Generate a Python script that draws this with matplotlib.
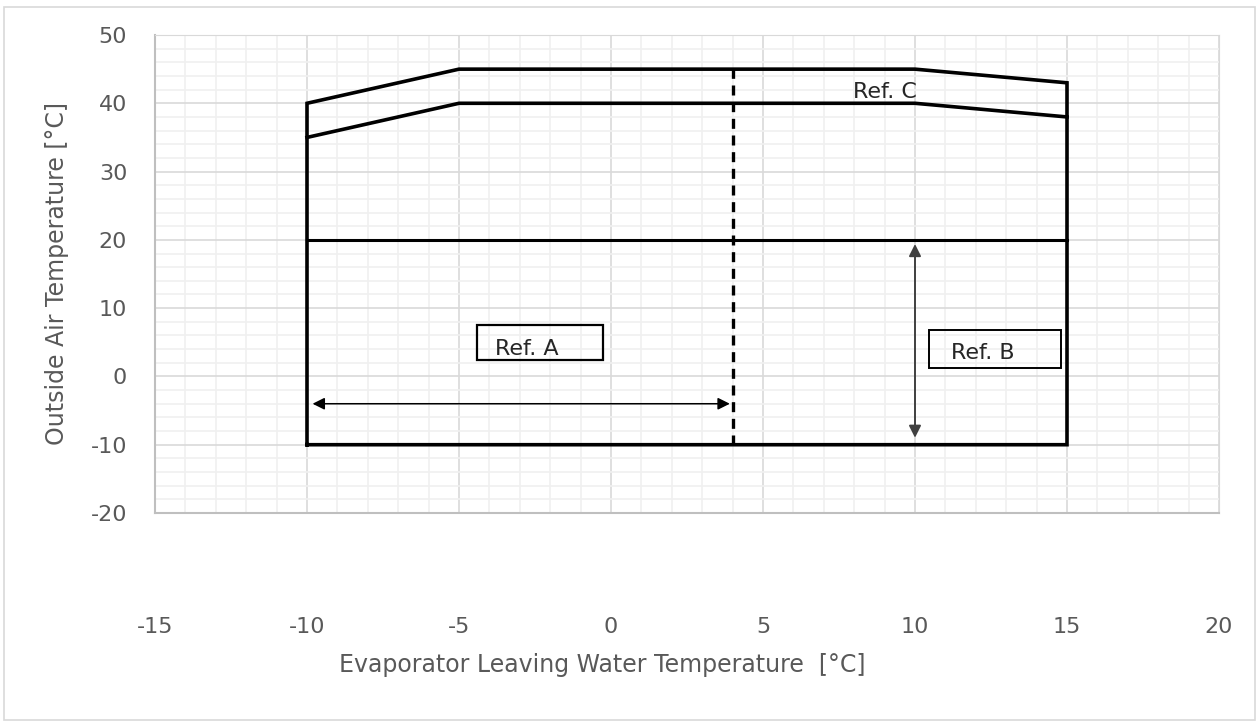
import matplotlib

matplotlib.use("Agg")
import matplotlib.pyplot as plt
from matplotlib.patches import Rectangle
from matplotlib.ticker import MultipleLocator

plt.rcParams["axes.unicode_minus"] = False

# operating envelope outline
ENV_X = [-10, -10, -5, 10, 15, 15, -10]
ENV_Y = [-10, 40, 45, 45, 43, -10, -10]

# lower edge of the Ref. C band
REF_C_X = [-10, -5, 10, 15]
REF_C_Y = [35, 40, 40, 38]

# horizontal split at 20 °C
SPLIT_X = [-10, 15]
SPLIT_Y = [20, 20]

# dashed limit at 4 °C leaving water
DASH_X = [4, 4]
DASH_Y = [-10, 45]

# arrows: (x0, y0) -> (x1, y1)
ARROW_A = ((-10, -4), (4, -4))
ARROW_B = ((10, 20), (10, -10))

X_TICKS = [-15, -10, -5, 0, 5, 10, 15, 20]
Y_TICKS = [-20, -10, 0, 10, 20, 30, 40, 50]

W, H = 1260, 726
fig = plt.figure(figsize=(W / 100, H / 100), dpi=100)
ax = fig.add_axes([155 / W, 1 - 513 / H, (1219 - 155) / W, (513 - 35) / H])

ax.set_xlim(X_TICKS[0], X_TICKS[-1])
ax.set_ylim(Y_TICKS[0], Y_TICKS[-1])
ax.set_xticks(X_TICKS)
ax.set_yticks(Y_TICKS)
ax.xaxis.set_minor_locator(MultipleLocator(1))
ax.yaxis.set_minor_locator(MultipleLocator(2))
ax.grid(which="major", color="#d9d9d9", lw=1.2, zorder=0)
ax.grid(which="minor", color="#f0f0f0", lw=1.2, zorder=0)
ax.set_axisbelow(True)
ax.tick_params(which="both", length=0, colors="#595959", labelsize=16)
ax.tick_params(axis="x", pad=75)
ax.tick_params(axis="y", pad=20)
for side in ["top", "right"]:
    ax.spines[side].set_color("#d9d9d9")
for side in ["left", "bottom"]:
    ax.spines[side].set_color("#bfbfbf")
    ax.spines[side].set_linewidth(1.5)

ax.plot(ENV_X, ENV_Y, color="black", lw=2.6, solid_joinstyle="miter", zorder=3)
ax.plot(REF_C_X, REF_C_Y, color="black", lw=2.6, zorder=3)
ax.plot(SPLIT_X, SPLIT_Y, color="black", lw=2.2, zorder=3)
ax.plot(DASH_X, DASH_Y, color="black", lw=2.4, dashes=(3.0, 2.0), zorder=3)

ax.annotate("", xy=ARROW_A[0], xytext=ARROW_A[1],
            arrowprops=dict(arrowstyle="<|-|>", color="black", lw=1.1,
                            mutation_scale=18, shrinkA=2, shrinkB=4))
ax.annotate("", xy=ARROW_B[0], xytext=ARROW_B[1],
            arrowprops=dict(arrowstyle="<|-|>", color="#404040", lw=1.4,
                            mutation_scale=18, shrinkA=5, shrinkB=3))

# label boxes
ax.add_patch(Rectangle((-4.4, 2.4), 4.15, 5.2, fill=False, ec="black", lw=1.6, zorder=4))
ax.text(-3.82, 2.6, "Ref. A", fontsize=16, color="#262626", va="bottom", zorder=5)
ax.add_patch(Rectangle((10.45, 1.2), 4.35, 5.55, fill=False, ec="black", lw=1.4, zorder=4))
ax.text(11.18, 1.9, "Ref. B", fontsize=16, color="#262626", va="bottom", zorder=5)
ax.text(9.0, 41.6, "Ref. C", fontsize=16, color="#262626", ha="center", va="center", zorder=5)

fig.text(602 / W, 1 - 665 / H, "Evaporator Leaving Water Temperature  [°C]",
         fontsize=17, color="#595959", ha="center", va="center")
fig.text(57 / W, 1 - 274 / H, "Outside Air Temperature [°C]", fontsize=17,
         color="#595959", ha="center", va="center", rotation=90)

fig.patches.append(Rectangle((4 / W, 1 - 720 / H), 1251 / W, 713 / H, fill=False,
                             ec="#d9d9d9", lw=1.2, transform=fig.transFigure))

fig.savefig("out.png", dpi=100)
